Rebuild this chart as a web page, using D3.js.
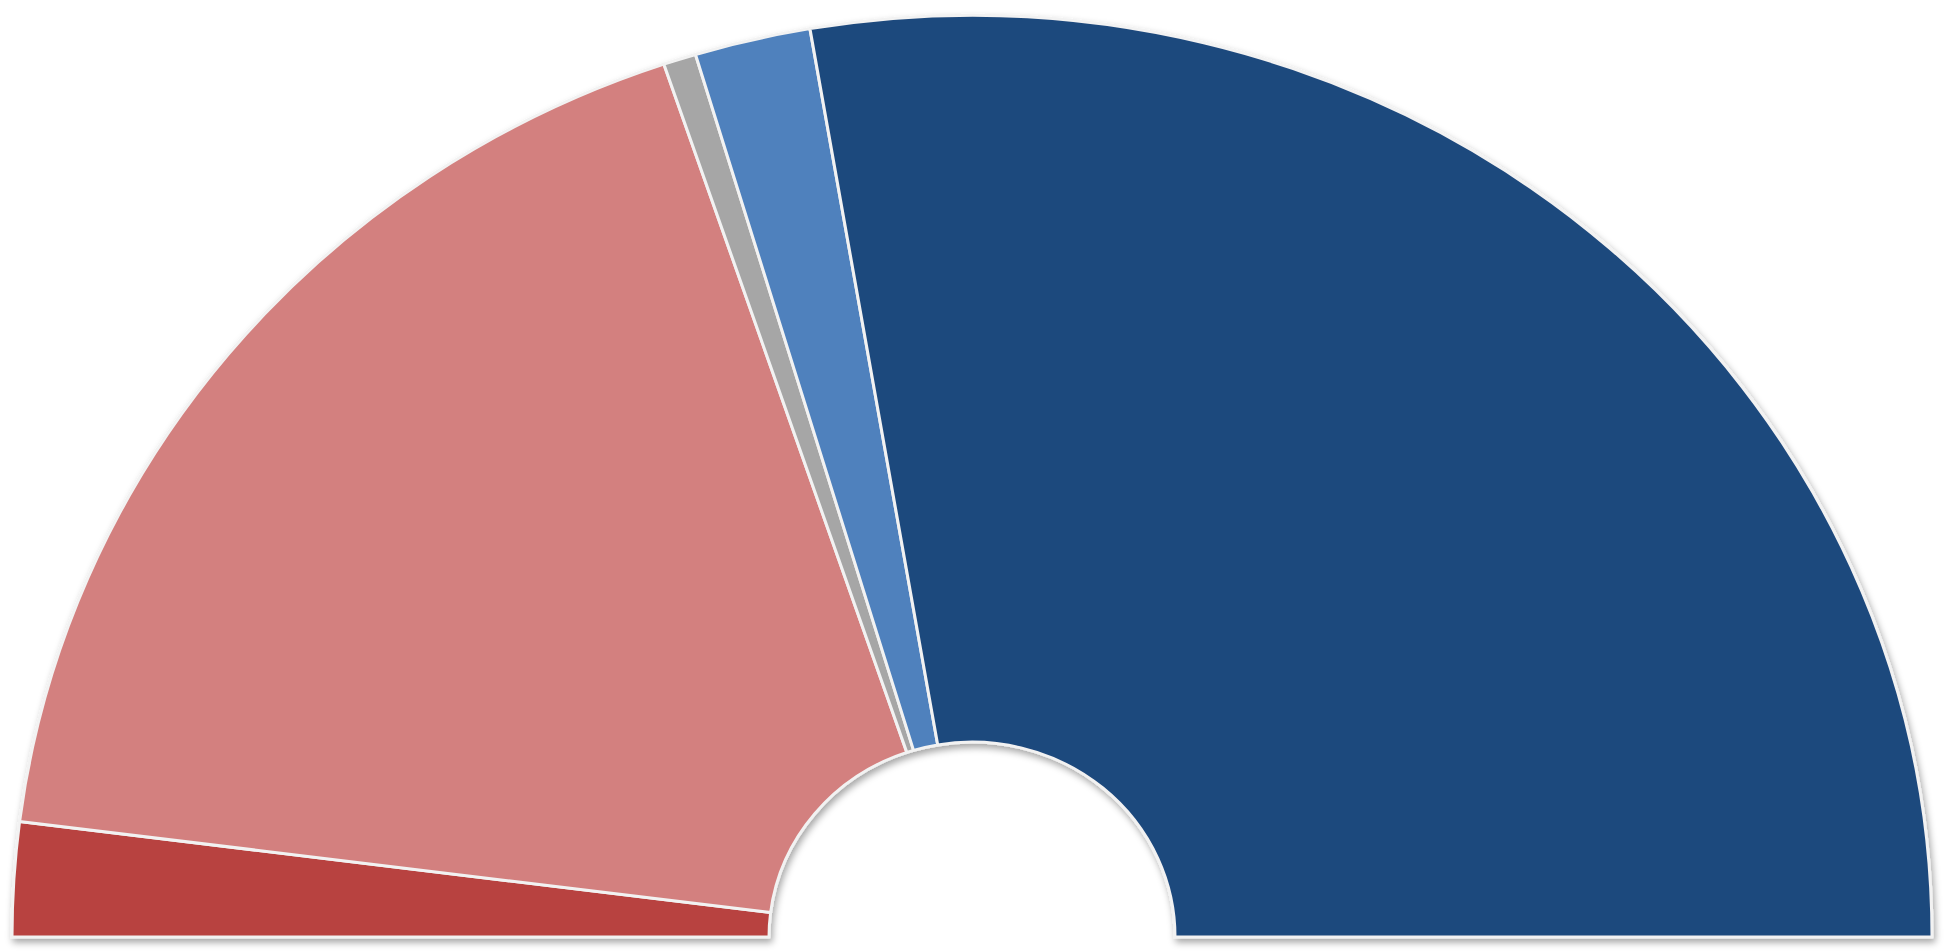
<!DOCTYPE html>
<html>
<head>
<meta charset="utf-8">
<script src="https://cdn.jsdelivr.net/npm/d3@7"></script>
<style>
  html, body { margin: 0; padding: 0; background: #ffffff; }
  svg { display: block; }
</style>
</head>
<body>
<svg id="chart" width="1957" height="951"></svg>
<script>
// Data (share of seats, left to right)
const parties = ["Party A", "Party B", "Party C", "Party D", "Party E"];
const seats = [4.0, 35.6, 1.1, 3.9, 55.4];
const colors = ["#b8433f", "#d3807f", "#a6a6a6", "#4f81bd", "#1f497d"];

const W = 1957, H = 951;
const cx = 972, cy = 937;
const outerR = 960, innerR = 203;
const yScale = 0.96;

const svg = d3.select("#chart");

const defs = svg.append("defs");
const f = defs.append("filter").attr("id", "shadow")
  .attr("x", "-5%").attr("y", "-5%").attr("width", "110%").attr("height", "115%");
f.append("feDropShadow")
  .attr("dx", 2).attr("dy", 4).attr("stdDeviation", 3.5)
  .attr("flood-color", "#000").attr("flood-opacity", 0.35);

const data = parties.map((p, i) => ({ party: p, seats: seats[i], color: colors[i] }));

const pie = d3.pie()
  .value(d => d.seats)
  .sort(null)
  .startAngle(-Math.PI / 2)
  .endAngle(Math.PI / 2);

const arc = d3.arc().innerRadius(innerR).outerRadius(outerR);

const g = svg.append("g")
  .attr("filter", "url(#shadow)")
  .append("g")
  .attr("transform", `translate(${cx},${cy}) scale(1,${yScale})`);

g.selectAll("path")
  .data(pie(data))
  .join("path")
  .attr("d", arc)
  .attr("fill", d => d.data.color)
  .attr("stroke", "#f2f2f2")
  .attr("stroke-width", 3)
  .attr("stroke-linejoin", "round")
  .attr("vector-effect", "non-scaling-stroke");
</script>
</body>
</html>
